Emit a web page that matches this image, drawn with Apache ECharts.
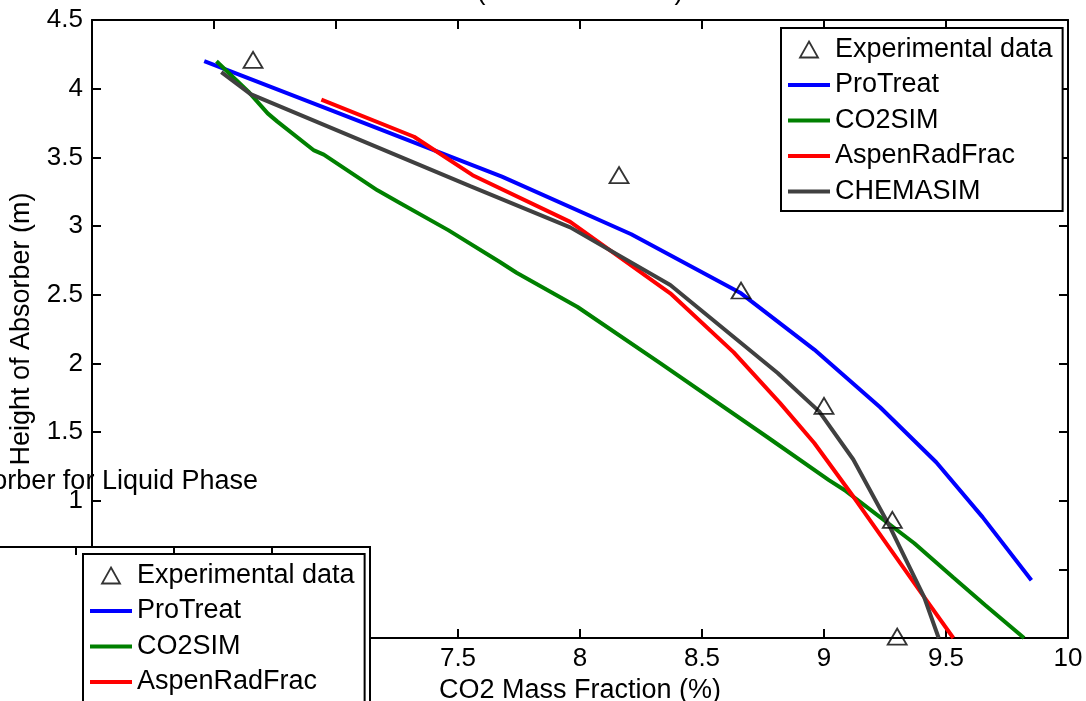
<!DOCTYPE html>
<html><head><meta charset="utf-8">
<script src="https://cdn.jsdelivr.net/npm/echarts@6/dist/echarts.min.js"></script>
<style>html,body{margin:0;padding:0;background:#fff}#c{width:1086px;height:701px}</style>
</head><body><div id="c"></div>
<script>
const seriesNames = ['Experimental data', 'ProTreat', 'CO2SIM', 'AspenRadFrac', 'CHEMASIM'];
const seriesColors = ['#000000', '#0000ff', '#008000', '#ff0000', '#404040'];
const experimental = [[6.66, 4.21], [8.16, 3.37], [8.66, 2.53], [9.00, 1.69], [9.28, 0.86], [9.30, 0.01]];
const proTreat = [[6.46, 4.20], [7.00, 3.83], [7.68, 3.36], [8.21, 2.94], [8.66, 2.51], [8.96, 2.10], [9.23, 1.68], [9.46, 1.28], [9.65, 0.88], [9.85, 0.42]];
const co2sim = [[6.51, 4.20], [6.64, 3.98], [6.72, 3.82], [6.76, 3.76], [6.91, 3.55], [6.95, 3.52], [7.17, 3.26], [7.26, 3.17], [7.46, 2.97], [7.67, 2.74], [7.74, 2.66], [7.99, 2.41], [8.33, 2.00], [8.77, 1.46], [9.02, 1.15], [9.09, 1.07], [9.37, 0.69], [9.53, 0.44], [9.66, 0.24], [9.82, 0.00]];
const aspenRadFrac = [[6.94, 3.92], [7.32, 3.65], [7.56, 3.37], [7.96, 3.03], [8.37, 2.51], [8.63, 2.08], [8.82, 1.71], [8.96, 1.42], [9.12, 1.03], [9.41, 0.30], [9.53, 0.00]];
const chemasim = [[6.53, 4.12], [6.65, 3.96], [7.55, 3.29], [7.96, 2.99], [8.37, 2.57], [8.81, 1.93], [8.98, 1.65], [9.12, 1.30], [9.27, 0.81], [9.41, 0.30], [9.47, 0.00]];
const xRange = [6, 10, 0.5];
const yRange = [0, 4.5, 0.5];
const xTitle = 'CO2 Mass Fraction (%)';
const yTitle = 'Height of Absorber (m)';
const mainTitle = '(Absorber Run 1)';
const insetTitle = 'CO2 Profile in the Absorber for Liquid Phase';

const FONT = 'Liberation Sans, Arial, Helvetica, sans-serif';
const lineData = [proTreat, co2sim, aspenRadFrac, chemasim];

const chart = echarts.init(document.getElementById('c'), null, {renderer: 'canvas'});

const axisLine = {show: true, onZero: false, lineStyle: {color: '#000', width: 2}};
const tickIn = {show: true, inside: true, length: 9, lineStyle: {color: '#000', width: 2}};
const TRI_ICON = 'path://M9,0L18,16L0,16Z';
const LINE_ICON = 'path://M0,0H42V4H0Z';

function legendData() {
  return seriesNames.map((n, i) => i === 0
    ? {name: n, icon: TRI_ICON, itemStyle: {color: 'rgba(0,0,0,0)', borderColor: '#000', borderWidth: 1.8}}
    : {name: n, icon: LINE_ICON, itemStyle: {color: seriesColors[i], borderWidth: 0}});
}
function makeLegend(left, top, z) {
  return {
    left: left, top: top, orient: 'vertical', z: z, height: 260,
    itemWidth: 42, itemHeight: 16, itemGap: 8.5, symbolKeepAspect: true,
    padding: [8, 10, 6, 7],
    backgroundColor: '#fff', borderColor: '#000', borderWidth: 2,
    textStyle: {fontFamily: FONT, fontSize: 27, color: '#000'},
    selectedMode: false,
    data: legendData()
  };
}

const series = [{
  name: seriesNames[0], type: 'scatter', xAxisIndex: 0, yAxisIndex: 0,
  symbol: 'triangle', symbolSize: [19, 16],
  itemStyle: {color: 'rgba(0,0,0,0)', borderColor: '#000', borderWidth: 1.8},
  data: experimental, z: 3
}];
lineData.forEach((d, i) => {
  series.push({
    name: seriesNames[i + 1], type: 'line', xAxisIndex: 0, yAxisIndex: 0,
    symbol: 'none', showSymbol: false, smooth: false,
    lineStyle: {color: seriesColors[i + 1], width: 4},
    itemStyle: {color: seriesColors[i + 1]},
    data: d, z: 2
  });
});

chart.setOption({
  animation: false,
  backgroundColor: '#fff',
  grid: [
    {left: 92, top: 20, width: 976, height: 618, show: false, containLabel: false, outerBoundsMode: 'none'},
    {left: -22, top: 547, width: 392, height: 201, show: true, backgroundColor: '#fff', borderColor: '#000', borderWidth: 2, z: 10, containLabel: false, outerBoundsMode: 'none'}
  ],
  xAxis: [
    {gridIndex: 0, type: 'value', min: xRange[0], max: xRange[1], interval: xRange[2], position: 'bottom',
     axisLine: axisLine, axisTick: tickIn, splitLine: {show: false},
     axisLabel: {fontFamily: FONT, fontSize: 26, color: '#000', margin: 8},
     name: xTitle, nameLocation: 'middle', nameGap: 38,
     nameTextStyle: {fontFamily: FONT, fontSize: 27, color: '#000'}},
    {gridIndex: 0, type: 'value', min: xRange[0], max: xRange[1], interval: xRange[2], position: 'top',
     axisLine: axisLine, axisTick: tickIn, axisLabel: {show: false}, splitLine: {show: false}},
    {gridIndex: 1, type: 'value', min: 0, max: 4, interval: 1, position: 'top', z: 11,
     axisLine: {show: false}, axisTick: {show: true, inside: true, length: 8, lineStyle: {color: '#000', width: 2}},
     axisLabel: {show: false}, splitLine: {show: false}}
  ],
  yAxis: [
    {gridIndex: 0, type: 'value', min: yRange[0], max: yRange[1], interval: yRange[2], position: 'left',
     axisLine: axisLine, axisTick: tickIn, splitLine: {show: false},
     axisLabel: {fontFamily: FONT, fontSize: 26, color: '#000', margin: 9},
     name: yTitle, nameLocation: 'middle', nameGap: 57, nameRotate: 90,
     nameTextStyle: {fontFamily: FONT, fontSize: 27, color: '#000'}},
    {gridIndex: 0, type: 'value', min: yRange[0], max: yRange[1], interval: yRange[2], position: 'right',
     axisLine: axisLine, axisTick: tickIn, axisLabel: {show: false}, splitLine: {show: false}},
    {gridIndex: 1, type: 'value', min: 0, max: 3, interval: 1, position: 'right', inverse: true, z: 11,
     axisLine: {show: false}, axisTick: {show: true, inside: true, length: 8, lineStyle: {color: '#000', width: 2}},
     axisLabel: {show: false}, splitLine: {show: false}}
  ],
  legend: [makeLegend(781, 28, 6), makeLegend(83, 554, 20)],
  graphic: [
    {type: 'text', x: 580, y: -22, z: 5,
     style: {text: mainTitle, fontFamily: FONT, fontSize: 27, fill: '#000', align: 'center', verticalAlign: 'top'}},
    {type: 'text', right: 828, top: 468, z: 1,
     style: {text: insetTitle, fontFamily: FONT, fontSize: 27, fill: '#000'}}
  ],
  series: series
});
</script></body></html>
